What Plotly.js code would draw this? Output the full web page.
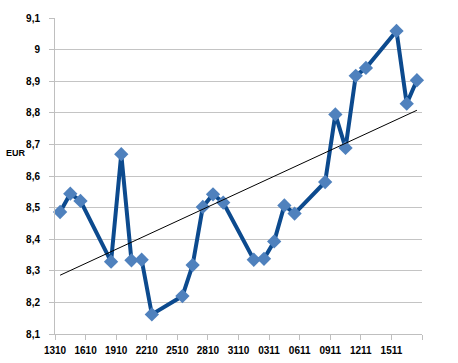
<!DOCTYPE html>
<html>
<head>
<meta charset="utf-8">
<script src="https://cdn.plot.ly/plotly-3.0.1.min.js"></script>
<style>
html,body{margin:0;padding:0;background:#fff;}
#chart{width:458px;height:363px;}
</style>
</head>
<body>
<div id="chart"></div>
<script>
// Data
const dates = [
  "2010-10-13","2010-10-14","2010-10-15","2010-10-18","2010-10-19","2010-10-20","2010-10-21","2010-10-22",
  "2010-10-25","2010-10-26","2010-10-27","2010-10-28","2010-10-29",
  "2010-11-01","2010-11-02","2010-11-03","2010-11-04","2010-11-05",
  "2010-11-08","2010-11-09","2010-11-10","2010-11-11","2010-11-12",
  "2010-11-15","2010-11-16","2010-11-17"
];
const eurValues = [
  8.486, 8.544, 8.521, 8.329, 8.669, 8.333, 8.335, 8.162,
  8.220, 8.318, 8.502, 8.542, 8.516,
  8.335, 8.338, 8.393, 8.507, 8.481,
  8.581, 8.795, 8.689, 8.917, 8.942,
  9.059, 8.829, 8.903
];
const trendDates = ["2010-10-13", "2010-11-17"];
const trendValues = [8.286, 8.808];
const tickDates = ["2010-10-13","2010-10-16","2010-10-19","2010-10-22","2010-10-25","2010-10-28","2010-10-31",
  "2010-11-03","2010-11-06","2010-11-09","2010-11-12","2010-11-15","2010-11-18"];
const tickLabels = ["1310","1610","1910","2210","2510","2810","3110","0311","0611","0911","1211","1511",""];
const yTickVals = [8.1,8.2,8.3,8.4,8.5,8.6,8.7,8.8,8.9,9.0,9.1];
const yTickLabels = ["8,1","8,2","8,3","8,4","8,5","8,6","8,7","8,8","8,9","9","9,1"];
const yLabel = "EUR";

// points sit in the middle of each day slot
const mid = d => d + " 12:00";

const traces = [
  {
    x: dates.map(mid), y: eurValues, type: "scatter", mode: "lines+markers",
    line: {color: "#0c4a8e", width: 4},
    marker: {symbol: "diamond", size: 11, color: "#4f81bd"},
    hoverinfo: "skip", cliponaxis: false
  },
  {
    x: trendDates.map(mid), y: trendValues, type: "scatter", mode: "lines",
    line: {color: "#000000", width: 1}, hoverinfo: "skip"
  }
];

const font = {family: "Liberation Sans, Arial, sans-serif", size: 10, color: "#000", weight: "bold"};

const layout = {
  width: 458, height: 363,
  margin: {l: 55, r: 36, t: 18, b: 29, pad: 0},
  paper_bgcolor: "#fff", plot_bgcolor: "#fff",
  showlegend: false,
  xaxis: {
    type: "date",
    range: ["2010-10-13", "2010-11-18"],
    tickmode: "array", tickvals: tickDates, ticktext: tickLabels,
    ticks: "outside", ticklen: 5, tickcolor: "#bfbfbf", tickwidth: 1,
    showgrid: false, zeroline: false,
    showline: true, linecolor: "#bfbfbf", linewidth: 1,
    tickfont: font, tickangle: 0, ticklabelstandoff: 2
  },
  yaxis: {
    range: [8.1, 9.1],
    tickmode: "array", tickvals: yTickVals, ticktext: yTickLabels,
    ticks: "outside", ticklen: 5, tickcolor: "#bfbfbf", tickwidth: 1,
    showgrid: true, gridcolor: "#c4c4c4", gridwidth: 1, zeroline: false,
    showline: true, linecolor: "#bfbfbf", linewidth: 1,
    tickfont: font, ticklabelstandoff: 7
  },
  annotations: [{
    text: yLabel, xref: "paper", yref: "paper", x: -0.106, y: 0.572,
    xanchor: "center", yanchor: "middle", showarrow: false,
    font: {family: "Liberation Sans, Arial, sans-serif", size: 9, color: "#000", weight: "bold"}
  }]
};

Plotly.newPlot("chart", traces, layout, {displayModeBar: false, staticPlot: true});
</script>
</body>
</html>
